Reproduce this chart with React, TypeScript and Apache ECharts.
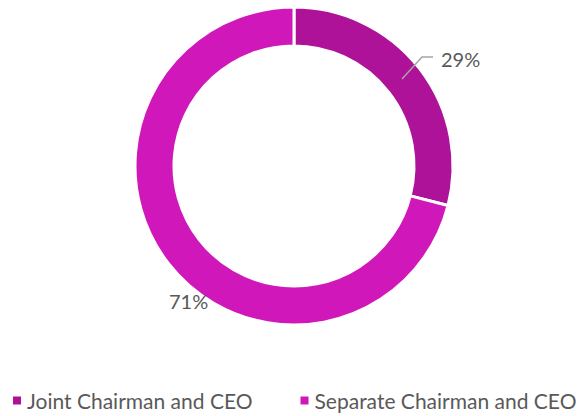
import React, { useEffect, useRef } from "react";
import * as echarts from "echarts";

const categories = ["Joint Chairman and CEO", "Separate Chairman and CEO"];
const values = [29, 71];
const colors = ["#AE1298", "#D018BA"];

export default function App() {
  const ref = useRef<HTMLDivElement>(null);
  useEffect(() => {
    if (!ref.current) return;
    const chart = echarts.init(ref.current, null, { renderer: "svg" });
    const font = "Lato, 'Open Sans', sans-serif";
    chart.setOption({
      animation: false,
      color: colors,
      legend: {
        left: 11,
        top: 390,
        padding: 0,
        itemWidth: 10,
        itemHeight: 10,
        itemGap: 46,
        icon: "rect",
        textStyle: { fontSize: 21, color: "#595959", fontFamily: font },
        data: categories,
      },
      graphic: [
        {
          type: "polyline",
          z: 100,
          shape: {
            points: [
              [402, 79],
              [422, 57],
              [433, 57],
            ],
          },
          style: { stroke: "#A6A6A6", lineWidth: 1.5, fill: null },
        },
      ],
      series: [
        {
          type: "pie",
          center: [294, 166],
          radius: [120, 159],
          startAngle: 90,
          clockwise: true,
          itemStyle: { borderColor: "#ffffff", borderWidth: 3 },
          label: {
            show: true,
            formatter: "{c}%",
            fontSize: 20,
            color: "#595959",
            fontFamily: font,
          },
          labelLine: { show: false },
          labelLayout: (params: any) => {
            if (params.dataIndex === 0) {
              return { x: 441, y: 59, align: "left", verticalAlign: "middle" };
            }
            return { x: 169, y: 301, align: "left", verticalAlign: "middle" };
          },
          data: categories.map((name, i) => ({ name, value: values[i] })),
        },
      ],
    });
    return () => chart.dispose();
  }, []);
  return <div ref={ref} style={{ width: 588, height: 416, position: "absolute", left: 0, top: 0 }} />;
}
